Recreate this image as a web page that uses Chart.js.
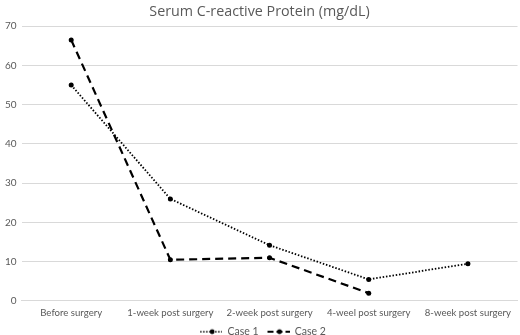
<!DOCTYPE html>
<html><head><meta charset="utf-8">
<script src="https://cdn.jsdelivr.net/npm/chart.js@4"></script>
<style>html,body{margin:0;padding:0;background:#fff}#wrap{width:520px;height:335px}</style>
</head><body><div id="wrap"><canvas id="c" width="520" height="335"></canvas></div>
<script>
const categories = ["Before surgery","1-week post surgery","2-week post surgery","4-weel post surgery","8-week post surgery"];
const case1 = [55, 26, 14.2, 5.5, 9.5];
const case2 = [66.5, 10.5, 11, 2, null];
const yTicks = [0,10,20,30,40,50,60,70];

function legendIcon(dash, width){
  const cv = document.createElement('canvas');
  cv.width = 29; cv.height = 8;
  const g = cv.getContext('2d');
  g.strokeStyle = '#000'; g.lineWidth = width; g.setLineDash(dash);
  g.beginPath(); g.moveTo(7,4); g.lineTo(29,4); g.stroke();
  g.fillStyle='#000'; g.beginPath(); g.arc(19,4,2.4,0,Math.PI*2); g.fill();
  return cv;
}
const icons = [legendIcon([1.5,1.5],1.5), legendIcon([6,3],2)];
const FONT = 'Lato, Open Sans, sans-serif';

new Chart(document.getElementById('c'), {
  type: 'line',
  data: {
    labels: categories,
    datasets: [
      {label:'Case 1', data: case1, borderColor:'#000', backgroundColor:'#000', borderWidth:1.8, borderDash:[1.5,1.8], pointRadius:2.5, pointBorderWidth:0, pointHoverRadius:2.5, tension:0},
      {label:'Case 2', data: case2, borderColor:'#000', backgroundColor:'#000', borderWidth:2.2, borderDash:[8,5], pointRadius:2.5, pointBorderWidth:0, pointHoverRadius:2.5, tension:0}
    ]
  },
  options: {
    responsive:false, animation:false,
    layout:{padding:{left:0,right:1,top:0,bottom:-12}},
    plugins:{
      title:{display:true,text:'Serum C-reactive Protein (mg/dL)',color:'#595959',font:{family:'Open Sans, sans-serif',size:14.3,weight:'normal'},padding:{top:3,bottom:6}},
      legend:{position:'bottom',labels:{color:'#595959',font:{family:FONT,size:10.5},usePointStyle:true,pointStyleWidth:29,boxHeight:8,padding:2,
        generateLabels:(chart)=>chart.data.datasets.map((d,i)=>({text:d.label,pointStyle:icons[i],fillStyle:'#000',strokeStyle:'#000',lineWidth:0,fontColor:'#595959',datasetIndex:i,hidden:false}))}},
      tooltip:{enabled:false}
    },
    scales:{
      x:{offset:true,grid:{display:false,drawTicks:false},border:{display:true,color:'#d9d9d9'},ticks:{color:'#595959',font:{family:FONT,size:9.6},maxRotation:0,autoSkip:false,padding:6}},
      y:{min:0,max:70,grid:{color:'#d9d9d9',drawTicks:false},border:{display:false},
        afterBuildTicks:(s)=>{s.ticks=yTicks.map(v=>({value:v}));},
        ticks:{color:'#595959',font:{family:FONT,size:10},padding:5}}
    }
  }
});
</script></body></html>
